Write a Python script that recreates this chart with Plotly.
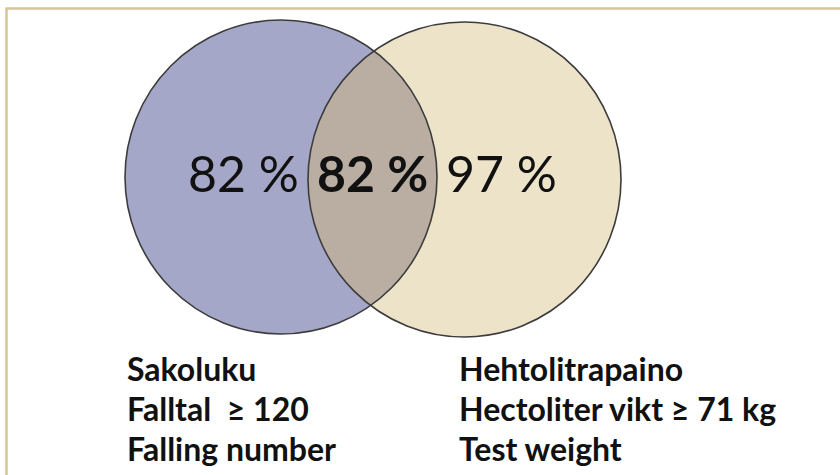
import numpy as np
import plotly.graph_objects as go

# Data
region_names = ["Sakoluku only", "Both", "Hehtolitrapaino only"]
region_values = [82, 82, 97]
region_bold = [False, True, False]
set_left_labels = ["Sakoluku", "Falltal  ≥ 120", "Falling number"]
set_right_labels = ["Hehtolitrapaino", "Hectoliter vikt ≥ 71 kg", "Test weight"]

# Geometry (pixel space)
W, H = 840, 475
c1 = dict(x0=125, x1=437, y0=20, y1=334)
c2 = dict(x0=308, x1=621, y0=22, y1=337)
blue = "#A4A7C7"
tan = "#EDE3C9"
lens_col = "#BAAEA3"
edge = "#3C3C3C"
FONT = "Lato"


def ell(c):
    return ((c["x0"] + c["x1"]) / 2, (c["y0"] + c["y1"]) / 2,
            (c["x1"] - c["x0"]) / 2, (c["y1"] - c["y0"]) / 2)


def inside(c, x, y):
    cx, cy, rx, ry = ell(c)
    return ((x - cx) / rx) ** 2 + ((y - cy) / ry) ** 2 <= 1


cx1, cy1, rx1, ry1 = ell(c1)
cx2, cy2, rx2, ry2 = ell(c2)
t1 = np.linspace(-np.pi, np.pi, 2000)
x1 = cx1 + rx1 * np.cos(t1)
y1 = cy1 + ry1 * np.sin(t1)
m1 = inside(c2, x1, y1)
t2 = np.linspace(0, 2 * np.pi, 2000)
x2 = cx2 + rx2 * np.cos(t2)
y2 = cy2 + ry2 * np.sin(t2)
m2 = inside(c1, x2, y2)
lx = np.concatenate([x1[m1], x2[m2]])
ly = np.concatenate([y1[m1], y2[m2]])

fig = go.Figure()
fig.add_trace(go.Scatter(x=lx, y=ly, fill="toself", fillcolor=lens_col,
                         mode="lines", line=dict(width=0), hoverinfo="skip",
                         showlegend=False))

shapes = [
    dict(type="line", xref="paper", yref="paper", x0=6.5 / W, x1=6.5 / W,
         y0=0, y1=1 - 8.5 / H, line=dict(color="#D8C39B", width=2.5),
         layer="below"),
    dict(type="line", xref="paper", yref="paper", x0=6.5 / W - 0.001, x1=1,
         y0=1 - 8.5 / H, y1=1 - 8.5 / H, line=dict(color="#D8C39B", width=2.5),
         layer="below"),
    dict(type="circle", xref="x", yref="y", **c1, fillcolor=blue,
         line=dict(width=0), layer="below"),
    dict(type="circle", xref="x", yref="y", **c2, fillcolor=tan,
         line=dict(width=0), layer="below"),
    dict(type="circle", xref="x", yref="y", **c1, fillcolor="rgba(0,0,0,0)",
         line=dict(color=edge, width=1.6), layer="above"),
    dict(type="circle", xref="x", yref="y", **c2, fillcolor="rgba(0,0,0,0)",
         line=dict(color=edge, width=1.6), layer="above"),
]

annotations = []
pct_x = [243, 372, 501]
for xv, v, b in zip(pct_x, region_values, region_bold):
    txt = f"{v} %"
    if b:
        txt = f"<b>{txt}</b>"
    annotations.append(dict(x=xv, y=173, xref="x", yref="y", text=txt,
                            showarrow=False, xanchor="center", yanchor="middle",
                            font=dict(family=FONT, size=50, color="#111111")))

line_y = [368, 408, 448]
for lbl, yv in zip(set_left_labels, line_y):
    annotations.append(dict(x=125, y=yv, xref="x", yref="y", text=f"<b>{lbl}</b>",
                            showarrow=False, xanchor="left", yanchor="middle",
                            font=dict(family=FONT, size=32, color="#111111")))
for lbl, yv in zip(set_right_labels, line_y):
    annotations.append(dict(x=457, y=yv, xref="x", yref="y", text=f"<b>{lbl}</b>",
                            showarrow=False, xanchor="left", yanchor="middle",
                            font=dict(family=FONT, size=32, color="#111111")))

fig.update_layout(
    width=W, height=H,
    margin=dict(l=0, r=0, t=0, b=0),
    paper_bgcolor="white", plot_bgcolor="white",
    xaxis=dict(range=[0, W], visible=False, fixedrange=True),
    yaxis=dict(range=[H, 0], visible=False, fixedrange=True),
    shapes=shapes, annotations=annotations,
    showlegend=False,
)
fig.write_html("out.html", config={"displayModeBar": False},
               post_script="document.body.style.margin='0';"
                           "document.body.style.overflow='hidden';"
                           "document.documentElement.style.overflow='hidden';")
